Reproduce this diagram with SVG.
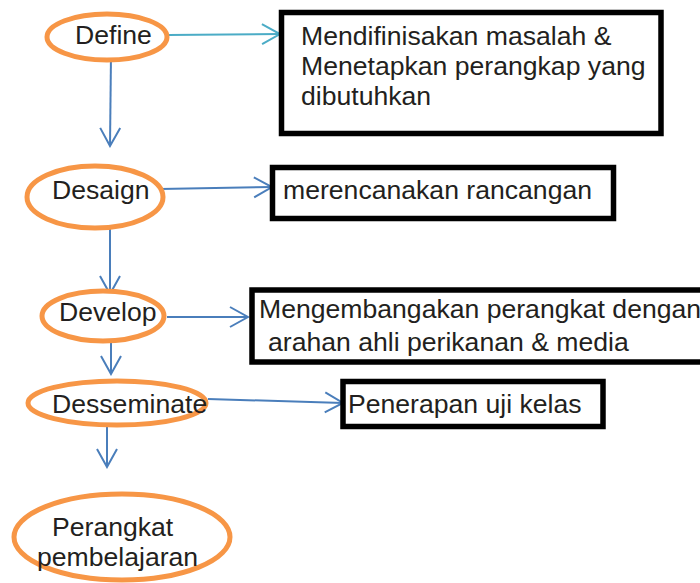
<svg xmlns="http://www.w3.org/2000/svg" width="700" height="583" viewBox="0 0 700 583">
<defs>
<style>
.oval{fill:#ffffff;stroke:#F79646;stroke-width:5}
.box{fill:#ffffff;stroke:#000000;stroke-width:5.5}
.t{font-family:"Liberation Sans",Arial,sans-serif;font-size:26.6px;fill:#231F20}
.cb{fill:none;stroke:#4A7EBB;stroke-width:2;marker-end:url(#ab)}
.cc{fill:none;stroke:#4BACC6;stroke-width:2;marker-end:url(#ac)}
</style>
<marker id="ab" viewBox="-20 -12 22 24" markerWidth="22" markerHeight="24" refX="0" refY="0" markerUnits="userSpaceOnUse" orient="auto">
<path d="M-18,-10 L0,0 L-18,10" fill="none" stroke="#4A7EBB" stroke-width="2"/>
</marker>
<marker id="ac" viewBox="-20 -12 22 24" markerWidth="22" markerHeight="24" refX="0" refY="0" markerUnits="userSpaceOnUse" orient="auto">
<path d="M-18,-10 L0,0 L-18,10" fill="none" stroke="#4BACC6" stroke-width="2"/>
</marker>
</defs>
<rect width="700" height="583" fill="#ffffff"/>

<g id="connectors">
<line class="cc" x1="168" y1="35" x2="280" y2="34"/>
<line class="cb" x1="111" y1="54" x2="110" y2="146"/>
<line class="cb" x1="160" y1="189" x2="272" y2="187"/>
<line class="cb" x1="110" y1="220" x2="110" y2="294"/>
<line class="cb" x1="167" y1="317" x2="248" y2="317"/>
<line class="cb" x1="111" y1="328" x2="111" y2="374"/>
<line class="cb" x1="208" y1="399" x2="343" y2="403"/>
<line class="cb" x1="107" y1="426" x2="107" y2="467"/>
</g>

<g id="define">
<ellipse class="oval" cx="107" cy="37" rx="60" ry="23"/>
<text class="t" x="75" y="44">Define</text>
</g>
<g id="box-define">
<rect class="box" x="281.5" y="12.5" width="379.5" height="121"/>
<text class="t" x="301" y="45">Mendifinisakan masalah &amp;</text>
<text class="t" x="301" y="75">Menetapkan perangkap yang</text>
<text class="t" x="301" y="105">dibutuhkan</text>
</g>

<g id="desaign">
<ellipse class="oval" cx="95" cy="197" rx="68" ry="31"/>
<text class="t" x="52" y="199">Desaign</text>
</g>
<g id="box-desaign">
<rect class="box" x="272.5" y="167.5" width="341" height="51"/>
<text class="t" x="283" y="199">merencanakan rancangan</text>
</g>

<g id="develop">
<ellipse class="oval" cx="103" cy="316" rx="61" ry="25"/>
<text class="t" x="59" y="321">Develop</text>
</g>
<g id="box-develop">
<rect class="box" x="252" y="290" width="460" height="72"/>
<text class="t" x="259" y="318">Mengembangakan perangkat dengan</text>
<text class="t" x="268" y="351">arahan ahli perikanan &amp; media</text>
</g>

<g id="desseminate">
<ellipse class="oval" cx="117" cy="403" rx="89" ry="22"/>
<text class="t" x="52" y="413">Desseminate</text>
</g>
<g id="box-desseminate">
<rect class="box" x="343" y="381.5" width="260" height="45"/>
<text class="t" x="348" y="413">Penerapan uji kelas</text>
</g>

<g id="perangkat">
<ellipse class="oval" cx="122" cy="537" rx="108" ry="43"/>
<text class="t" x="52" y="536">Perangkat</text>
<text class="t" x="37" y="566">pembelajaran</text>
</g>
</svg>
